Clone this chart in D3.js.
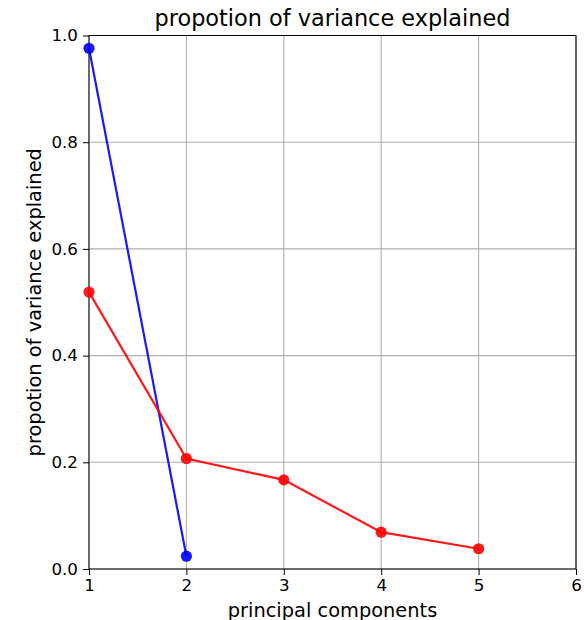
<!DOCTYPE html>
<html><head><meta charset="utf-8">
<script src="https://cdn.jsdelivr.net/npm/d3@7"></script>
<style>body{margin:0;background:#fff}svg{display:block}text{font-family:"DejaVu Sans",sans-serif}</style>
</head><body>
<script>
const components = [1, 2, 3, 4, 5];
const blueValues = [0.976, 0.024];
const redValues = [0.519, 0.207, 0.167, 0.069, 0.038];
const xTicks = [1, 2, 3, 4, 5, 6];
const yTicks = [0.0, 0.2, 0.4, 0.6, 0.8, 1.0];

const W = 584, H = 620;
const m = {left: 89, right: 8, top: 35.5, bottom: 51};
const svg = d3.select("body").append("svg").attr("width", W).attr("height", H);
const x = d3.scaleLinear().domain([1, 6]).range([m.left, W - m.right]);
const y = d3.scaleLinear().domain([0, 1]).range([H - m.bottom, m.top]);

// grid
svg.append("g").selectAll("line").data(xTicks).join("line")
  .attr("x1", d => x(d)).attr("x2", d => x(d)).attr("y1", y(0)).attr("y2", y(1))
  .attr("stroke", "#b0b0b0").attr("stroke-width", 1.1);
svg.append("g").selectAll("line").data(yTicks).join("line")
  .attr("x1", x(1)).attr("x2", x(6)).attr("y1", d => y(d)).attr("y2", d => y(d))
  .attr("stroke", "#b0b0b0").attr("stroke-width", 1.1);

// axes
const xAxis = svg.append("g").attr("transform", `translate(0,${y(0)})`)
  .call(d3.axisBottom(x).tickValues(xTicks).tickFormat(d3.format("d")).tickSize(6).tickPadding(4));
const yAxis = svg.append("g").attr("transform", `translate(${x(1)},0)`)
  .call(d3.axisLeft(y).tickValues(yTicks).tickFormat(d3.format(".1f")).tickSize(6).tickPadding(5));
[xAxis, yAxis].forEach(a => {
  a.attr("font-size", 16.7).attr("font-family", "DejaVu Sans");
  a.select(".domain").remove();
  a.selectAll("text").attr("font-size", 16.7).attr("fill", "#000");
  a.selectAll("line").attr("stroke", "#000").attr("stroke-width", 1);
});
// spines
svg.append("rect").attr("x", x(1)).attr("y", y(1)).attr("width", x(6) - x(1)).attr("height", y(0) - y(1))
  .attr("fill", "none").attr("stroke", "#000").attr("stroke-width", 1);

const line = d3.line().x((d, i) => x(components[i])).y(d => y(d));
function series(vals, color) {
  const g = svg.append("g");
  g.append("path").datum(vals).attr("d", line).attr("fill", "none")
    .attr("stroke", color).attr("stroke-width", 2.2).attr("opacity", 0.9);
  g.selectAll("circle").data(vals).join("circle")
    .attr("cx", (d, i) => x(components[i])).attr("cy", d => y(d)).attr("r", 5.6)
    .attr("fill", color).attr("opacity", 0.9);
}
series(blueValues, "blue");
series(redValues, "red");

svg.append("text").attr("x", (x(1) + x(6)) / 2).attr("y", 25.5).attr("text-anchor", "middle")
  .attr("font-size", 22.4).text("propotion of variance explained");
svg.append("text").attr("x", (x(1) + x(6)) / 2).attr("y", 616.5).attr("text-anchor", "middle")
  .attr("font-size", 19.4).text("principal components");
svg.append("text").attr("transform", `translate(41,${(y(0) + y(1)) / 2}) rotate(-90)`)
  .attr("text-anchor", "middle").attr("font-size", 19.4).text("propotion of variance explained");
</script>
</body></html>
